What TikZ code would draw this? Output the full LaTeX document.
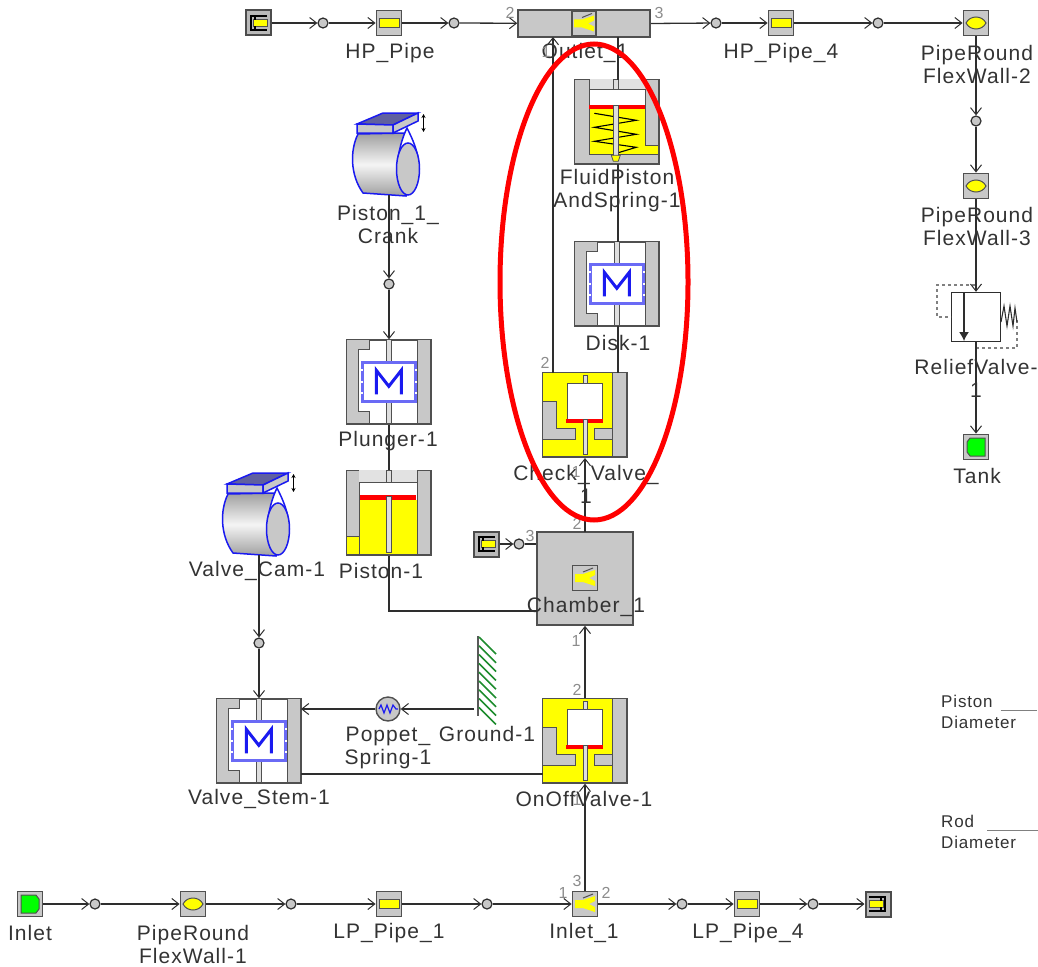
\documentclass[tikz,border=0pt]{standalone}
\usepackage{fontspec}
\setmainfont[LetterSpace=5]{Liberation Sans}
\usetikzlibrary{arrows.meta,calc}
\definecolor{bodygray}{HTML}{C8C8C8}
\definecolor{edgegray}{HTML}{505050}
\definecolor{linedark}{HTML}{2E2E2E}
\definecolor{labelcol}{HTML}{333333}
\definecolor{portgray}{HTML}{8C8C8C}
\definecolor{massblue}{HTML}{1A1AF0}
\definecolor{wallgreen}{HTML}{1E8C2E}
\definecolor{pipeyellow}{HTML}{FFFF00}
\definecolor{bandgray}{HTML}{E2E2E2}
\tikzset{
  conn/.style={draw=linedark,line width=1.3pt},
  arr/.style={conn,-{Straight Barb[length=7pt,width=11pt,line width=1pt]}},
  junction/.style={circle,draw=linedark,fill=bodygray,line width=1.2pt,minimum size=10pt,inner sep=0pt},
  iconbox/.style={draw=edgegray,fill=bodygray,line width=1.8pt,minimum size=25pt,inner sep=0pt},
  capbox/.style={draw=black!70,fill=gray!55,line width=2pt,minimum size=25pt,inner sep=0pt},
  bigbox/.style={draw=edgegray,fill=white,line width=1.4pt,minimum width=84pt,minimum height=84pt,inner sep=0pt},
  lab/.style={text=labelcol,font=\fontsize{21}{23}\selectfont,align=center,inner sep=0pt},
  smalllab/.style={text=labelcol,font=\fontsize{17}{21}\selectfont,align=left,inner sep=0pt,anchor=west},
  port/.style={text=portgray,font=\fontsize{16}{16}\selectfont,inner sep=0pt},
  ol/.style={draw=edgegray,line width=1.2pt},
  rod/.style={draw=edgegray,fill=bodygray!60,line width=1.1pt},
  camline/.style={draw=massblue,line width=1.5pt},
  pics/pipeflat/.style={code={
    \path[fill=pipeyellow,draw=edgegray,line width=1pt] (-10,-4.5) rectangle (10,4.5);}},
  pics/piperound/.style={code={
    \path[fill=pipeyellow,draw=edgegray,line width=1pt] (-10,0) .. controls (-6,-8) and (6,-8) .. (10,0) .. controls (6,8) and (-6,8) .. (-10,0) -- cycle;}},
  pics/tee/.style={code={
    \path[fill=pipeyellow] (-10,-4)--(-2,-4)--(10,-8)--(10,-3)--(4,0)--(10,3)--(10,8)--(-2,4)--(-10,4)--cycle;
    \draw[edgegray,line width=1pt] (-2,-6)--(8,-10);}},
  pics/capend/.style={code={
    \path[fill=pipeyellow,draw=edgegray,line width=.8pt] (-5,-3.5) rectangle (9,3.5);
    \draw[black,line width=1.8pt] (9,-7)--(-7,-7)--(-7,7)--(9,7);
    \draw[black,line width=1.4pt] (-3,-7)--(-3,-3) (-3,3)--(-3,7);}},
  pics/greenend/.style={code={
    \path[fill=green,draw=edgegray,line width=1pt] (-9,-9)--(6,-9)--(9,-5)--(9,5)--(6,9)--(-9,9)--cycle;}},
  pics/massblock/.style={code={
    \path[ol,fill=bodygray] (0,0)--(23,0)--(23,10)--(12,10)--(12,72)--(23,72)--(23,84)--(0,84)--cycle;
    \path[ol,fill=bodygray] (71,0) rectangle (84,84);
    \path[rod] (40,0) rectangle (45,84);
    \path[draw=massblue!65,fill=white,line width=3pt] (16,23) rectangle (69,62);
    \foreach \yy in {31,42.5,54}{\fill[white] (14.5,\yy-1) rectangle (16.5,\yy+1);\fill[white] (68.5,\yy-1) rectangle (70.5,\yy+1);}
    \draw[massblue,line width=3pt,line join=miter] (30,55)--(30,31)--(42.5,47)--(55,31)--(55,55);}},
  pics/pistonblock/.style={code={
    \path[fill=pipeyellow] (13,30) rectangle (71,84);
    \path[fill=pipeyellow] (0,66) rectangle (14,84);
    \path[ol,fill=bodygray] (0,0)--(13,0)--(13,66)--(0,66)--cycle;
    \path[ol,fill=bodygray] (71,0) rectangle (84,84);
    \path[fill=bandgray] (13,0) rectangle (71,12);
    \draw[edgegray,line width=1.2pt] (13,12)--(71,12);
    \path[fill=red] (14,25) rectangle (70,30);
    \path[rod] (40,0) rectangle (45,12);
    \path[rod] (40,26) rectangle (45,82);
    \draw[ol] (0,84)--(84,84) (13,66)--(13,84) (0,66)--(0,84);}},
  pics/springblock/.style={code={
    \path[ol,fill=bodygray] (0,0) rectangle (84,84);
    \path[fill=pipeyellow] (15,30) rectangle (71,75);
    \path[fill=pipeyellow] (70,66) rectangle (84,75);
    \path[fill=white] (15,10) rectangle (71,26);
    \path[fill=bandgray] (15,0) rectangle (71,10);
    \draw[edgegray,line width=1.2pt] (15,0)--(15,75)--(84,75) (15,10)--(71,10)--(71,66)--(84,66);
    \path[fill=red] (15,26) rectangle (71,30);
    \draw[black,line width=1.1pt] (20,34)--(62,41)--(20,48)--(62,55)--(20,62)--(62,68)--(42,74);
    \path[rod] (39,26) rectangle (44,80);
    \path[rod] (39,0) rectangle (44,10);
    \path[fill=pipeyellow,draw=edgegray,line width=.8pt] (37,76)--(46,76)--(44,82)--(39,82)--cycle;}},
  pics/valveblock/.style={code={
    \path[fill=pipeyellow] (0,0) rectangle (70,84);
    \path[ol,fill=bodygray] (70,0) rectangle (84,84);
    \path[ol,fill=bodygray] (0,29)--(14,29)--(14,56)--(33,56)--(33,67)--(0,67)--cycle;
    \path[ol,fill=bodygray] (70,56)--(52,56)--(52,67)--(70,67)--cycle;
    \path[ol,fill=white] (25,11) rectangle (60,47);
    \path[fill=red] (24,47) rectangle (61,51);
    \path[rod] (41,47) rectangle (45,82);
    \path[rod] (41,3) rectangle (45,11);
    \draw[ol] (0,0) rectangle (84,84);}},
  pics/campic/.style={code={
    \path[shade,top color=gray!75,bottom color=gray!75,middle color=white!92!gray,camline]
      (28,34) .. controls (20,50) and (20,75) .. (33,93) -- (76,96) -- (78,44) -- (76,33) -- cycle;
    \path[camline,fill=white] (68,58) .. controls (70,46) and (73,36) .. (77,28) .. controls (81,36) and (86,46) .. (88,58) -- cycle;
    \path[camline,fill=bodygray] (78,69) ellipse [x radius=11.5pt,y radius=26pt];
    \path[camline,fill=blue!25!gray] (27,24)--(53,13)--(88,13)--(63,25)--cycle;
    \path[camline,fill=bodygray] (27,24)--(63,25)--(63,33)--(27,33)--cycle;
    \path[camline,fill=bodygray] (63,25)--(88,13)--(88,21)--(63,33)--cycle;
    \draw[black,line width=1pt,{Stealth[length=4pt,width=4pt]}-{Stealth[length=4pt,width=4pt]}] (93.5,14)--(93.5,32);}},
}
\begin{document}
\begin{tikzpicture}[x=1pt,y=-1pt]
\useasboundingbox (0,0) rectangle (1038,966);
% top row
\node[capbox] (capa) at (258,23) {}; \pic at (capa) {capend};
\node[junction] (j1) at (323,23) {};
\node[iconbox] (hp) at (389,23) {}; \pic at (hp) {pipeflat};
\node[junction] (j2) at (454,23) {};
\node[draw=edgegray,fill=bodygray,line width=1.6pt,minimum width=132pt,minimum height=27pt,inner sep=0pt] (outlet) at (584,23.5) {};
\node[iconbox,minimum size=24pt] (outicon) at (584,23.5) {}; \pic at (outicon) {tee};
\node[junction] (j3) at (716,23) {};
\node[iconbox] (hp4) at (781,23) {}; \pic at (hp4) {pipeflat};
\node[junction] (j4) at (878,23) {};
\node[iconbox] (pr2) at (976,23) {}; \pic at (pr2) {piperound};
\node[junction] (j5) at (976,121) {};
\node[iconbox] (pr3) at (976,186) {}; \pic at (pr3) {piperound};
\node[draw=linedark,fill=white,line width=1.4pt,minimum size=49pt,inner sep=0pt] (relief) at (976,317) {};
\coordinate (rvt) at (964,293); \coordinate (rvb) at (964,341);
\draw[linedark,line width=1.3pt,-{Latex[length=9pt,width=10pt]}] (rvt)--(rvb);
\draw[gray,line width=1.5pt,dashed] (975,285)--(937,285)--(937,317)--(951,317);
\draw[gray,line width=1.5pt,dashed] (1017,320)--(1017,348)--(977,348);
\draw[linedark,line width=1.1pt] (1001,322)--(1004,306)--(1007,326)--(1010,306)--(1013,326)--(1015,308)--(1017,322);
\node[iconbox] (tank) at (976,447) {}; \pic[xscale=-1] at (tank) {greenend};
% middle
\pic at (330,100) {campic}; \coordinate (pcam) at (389,195);
\node[junction] (j6) at (389,284) {};
\node[bigbox] (plunger) at (389,382) {}; \pic at (plunger.north west) {massblock};
\node[bigbox] (piston) at (389,513) {}; \pic at (piston.north west) {pistonblock};
\node[bigbox] (fluid) at (617,122) {}; \pic at (fluid.north west) {springblock};
\node[bigbox] (disk) at (617,284) {}; \pic at (disk.north west) {massblock};
\node[bigbox] (check) at (585,415) {}; \pic at (check.north west) {valveblock};
\node[draw=edgegray,fill=bodygray,line width=1.6pt,minimum width=96pt,minimum height=93pt,inner sep=0pt] (chamber) at (585,578.5) {};
\node[iconbox] (chicon) at (585,578) {}; \pic at (chicon) {tee};
\node[capbox] (capb) at (486,544) {}; \pic at (capb) {capend};
\node[junction] (j7) at (519,544) {};
\pic at (200,460) {campic}; \coordinate (vcam) at (259,555);
\node[junction] (j8) at (259,643) {};
\node[bigbox] (stem) at (259,741) {}; \pic at (stem.north west) {massblock};
\node[bigbox] (onoff) at (585,741) {}; \pic at (onoff.north west) {valveblock};
\node[circle,draw=edgegray,fill=bodygray,line width=1.4pt,minimum size=24pt,inner sep=0pt] (spring) at (388,709) {};
\draw[massblue,line width=1.2pt] (379,709)--(381,705)--(384,713)--(387,705)--(390,713)--(393,705)--(396,709)--(398,709);
\coordinate (ground) at (474,709);
\draw[gray!70!black,line width=2pt] (478,636)--(478,716);
\foreach \k in {0,...,8}{\draw[wallgreen,line width=1.6pt] (479,637+\k*8.8)--(496,654+\k*8.8);}
% bottom row
\node[iconbox] (inlet) at (30,904) {}; \pic at (inlet) {greenend};
\node[junction] (j9) at (95,904) {};
\node[iconbox] (pr1) at (193,904) {}; \pic at (pr1) {piperound};
\node[junction] (j10) at (291,904) {};
\node[iconbox] (lp1) at (389,904) {}; \pic at (lp1) {pipeflat};
\node[junction] (j11) at (487,904) {};
\node[iconbox] (in1) at (585,904) {}; \pic at (in1) {tee};
\node[junction] (j12) at (682,904) {};
\node[iconbox] (lp4) at (747,904) {}; \pic at (lp4) {pipeflat};
\node[junction] (j13) at (813,904) {};
\node[capbox] (capc) at (878,904) {}; \pic[xscale=-1] at (capc) {capend};
% free ends
\coordinate (outL) at (553,37); \coordinate (chkL) at (553,373);
\coordinate (outR) at (618,37); \coordinate (fluT) at (618,80);
\coordinate (fluB) at (618,164); \coordinate (dskT) at (618,242);
\coordinate (dskB) at (618,326); \coordinate (chkR) at (618,373);
\coordinate (chaL) at (537,611); \coordinate (stemS) at (301,709);
\coordinate (stemV) at (301,774); \coordinate (onoffV) at (543,774);
\coordinate (chaT) at (585,532); \coordinate (chkB) at (585,458);
% connectors
\draw[arr] (capa)--(j1); \draw[arr] (j1)--(hp); \draw[arr] (hp)--(j2); \draw[arr] (j2)--(outlet);
\draw[arr] (outlet.east)--(j3); \draw[arr] (j3)--(hp4); \draw[arr] (hp4)--(j4); \draw[arr] (j4)--(pr2);
\draw[arr] (pr2)--(j5); \draw[arr] (j5)--(pr3); \draw[arr] (pr3)--(relief);
\draw[arr] (relief)--(tank);
\draw[arr] (pcam)--(j6); \draw[arr] (j6)--(plunger);
\draw[conn] (plunger)--(piston);
\draw[conn] (piston.south)--(piston.south|-chaL)--(chaL);
\draw[arr] (chkL)--(outL);
\draw[conn] (outR)--(fluT); \draw[conn] (fluB)--(dskT); \draw[conn] (dskB)--(chkR);
\draw[arr] (chaT)--(chkB);
\draw[arr] (capb)--(j7); \draw[conn] (j7)--(chamber.west|-j7);
\draw[arr] (vcam)--(j8); \draw[arr] (j8)--(stem);
\draw[arr] (ground)--(spring); \draw[arr] (spring)--(stemS);
\draw[conn] (stemV)--(onoffV);
\draw[arr] (onoff.north)--(chamber.south);
\draw[arr] (in1)--(onoff.south);
\draw[arr] (inlet)--(j9); \draw[arr] (j9)--(pr1); \draw[arr] (pr1)--(j10); \draw[arr] (j10)--(lp1); \draw[arr] (lp1)--(j11); \draw[arr] (j11)--(in1);
\draw[arr] (in1)--(j12); \draw[arr] (j12)--(lp4); \draw[arr] (lp4)--(j13); \draw[arr] (j13)--(capc);
% labels
\node[lab] (lhp) at (390,53) {HP\_Pipe};
\node[lab] (lout) at (585,53) {Outlet\_1};
\node[lab] (lhp4) at (781,53) {HP\_Pipe\_4};
\node[lab] (lpr2) at (977,64) {PipeRound\\FlexWall-2};
\node[lab] (lcrank) at (388,224) {Piston\_1\_\\Crank};
\node[lab] (lfluid) at (617,191) {FluidPiston\\AndSpring-1};
\node[lab] (lpr3) at (977,226) {PipeRound\\FlexWall-3};
\node[lab] (ldisk) at (618,343) {Disk-1};
\node[lab] (lrel) at (976,378) {ReliefValve-\\1};
\node[lab] (lcheck) at (586,484) {Check\_Valve\_\\1};
\node[lab] (lplunger) at (388,441) {Plunger-1};
\node[lab] (ltank) at (977,476) {Tank};
\node[lab] (lpiston) at (381,571) {Piston-1};
\node[lab] (lvcam) at (257,571) {Valve\_Cam-1};
\node[lab] (lcham) at (586,607) {Chamber\_1};
\node[lab] (lground) at (487,734) {Ground-1};
\node[lab] (lpop) at (388,748) {Poppet\_\\Spring-1};
\node[lab] (lstem) at (259,799) {Valve\_Stem-1};
\node[lab] (lonoff) at (584,799) {OnOffValve-1};
\node[lab] (linlet) at (30,933) {Inlet};
\node[lab] (lpr1) at (193,944) {PipeRound\\FlexWall-1};
\node[lab] (llp1) at (389,933) {LP\_Pipe\_1};
\node[lab] (lin1) at (584,933) {Inlet\_1};
\node[lab] (llp4) at (748,933) {LP\_Pipe\_4};
\node[smalllab] (tpd) at (941,712) {Piston\hspace{8pt}\textcolor{gray}{\rule[-3pt]{36pt}{.9pt}}\\Diameter};
\node[smalllab] (trd) at (941,832) {Rod\hspace{13pt}\textcolor{gray}{\rule[-3pt]{52pt}{.9pt}}\\Diameter};
% port numbers
\node[port] (p1) at (510,13) {2};
\node[port] (p2) at (659,13) {3};
\node[port] (p3) at (545,363) {2};
\node[port] (p4) at (577,524) {2};
\node[port] (p5) at (530,536) {3};
\node[port] (p6) at (576,641) {1};
\node[port] (p7) at (577,690) {2};
\node[port] (p8) at (577,881) {3};
\node[port] (p9) at (563,893) {1};
\node[port] (p10) at (606,893) {2};
\node[port] (p11) at (546,52) {1};
\node[port] (p12) at (576,472) {1};
\node[port] (p13) at (577,800) {1};
% highlight
\draw[red,line width=5pt] (594,282) ellipse [x radius=94pt,y radius=238pt];
\end{tikzpicture}
\end{document}
